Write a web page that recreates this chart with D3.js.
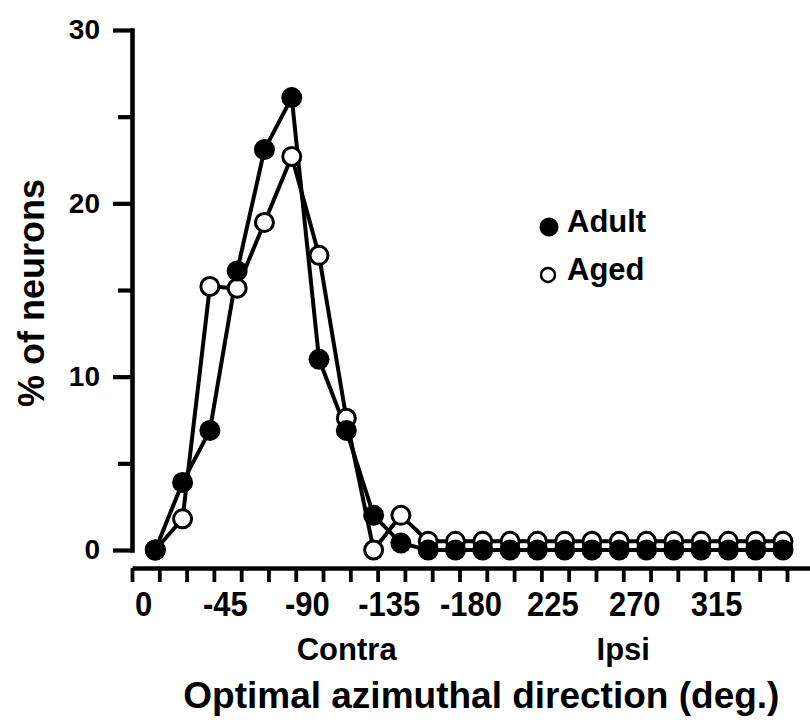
<!DOCTYPE html>
<html>
<head>
<meta charset="utf-8">
<script src="https://cdn.jsdelivr.net/npm/d3@7"></script>
<style>
  body { margin: 0; background: #fff; }
  svg text { font-family: "Liberation Sans", Arial, Helvetica, sans-serif; font-weight: bold; fill: #000; }
</style>
</head>
<body>
<svg id="chart" width="810" height="720"></svg>
<script>
// Azimuth bins (deg.), 15-degree steps
const binAngles = [0, 15, 30, 45, 60, 75, 90, 105, 120, 135, 150, 165,
                   180, 195, 210, 225, 240, 255, 270, 285, 300, 315, 330, 345];
// % of neurons per bin
const adultPct = [0, 3.9, 6.9, 16.1, 23.1, 26.1, 11.0, 6.9, 2.0, 0.4, 0, 0,
                  0, 0, 0, 0, 0, 0, 0, 0, 0, 0, 0, 0];
const agedPct  = [0, 1.8, 15.2, 15.1, 18.9, 22.7, 17.0, 7.6, 0, 2.0, 0.5, 0.5,
                  0.5, 0.5, 0.5, 0.5, 0.5, 0.5, 0.5, 0.5, 0.5, 0.5, 0.5, 0.5];

const yTickValues = [0, 5, 10, 15, 20, 25, 30];
const yMajorTicks = [0, 10, 20, 30];
const xTickValues = d3.range(0, 361, 15);
const xLabelAngles = [0, 45, 90, 135, 180, 225, 270, 315];
const xLabelTexts = ["0", "-45", "-90", "-135", "-180", "225", "270", "315"];
const sideNames = ["Contra", "Ipsi"];
const sideAngles = [118, 270];
const seriesNames = ["Adult", "Aged"];

const svg = d3.select("#chart");

// scales
const x = d3.scaleLinear().domain([0, 375]).range([132, 132 + 375 * (655 / 360)]);
const y = d3.scaleLinear().domain([0, 30]).range([550, 30]);
const pointShift = 12.8; // markers sit a little to the right of each bin tick

// y axis
const yAxisG = svg.append("g")
  .attr("transform", `translate(${x(0)},0)`)
  .call(d3.axisLeft(y).tickValues(yTickValues).tickSize(19).tickSizeOuter(0).tickPadding(13)
        .tickFormat(d => yMajorTicks.includes(d) ? d : ""));
yAxisG.select(".domain").attr("stroke", "#000").attr("stroke-width", 4.6).attr("stroke-linecap", "square");
yAxisG.selectAll(".tick line").attr("stroke", "#000").attr("stroke-width", 4.2)
  .attr("x2", d => yMajorTicks.includes(d) ? -19 : -14);
yAxisG.selectAll(".tick text").attr("font-size", 28).attr("font-family", null);

// x axis (ticks every 15 deg.)
const xAxisG = svg.append("g")
  .attr("transform", "translate(0,568)")
  .call(d3.axisBottom(x).tickValues(xTickValues).tickSize(14).tickSizeOuter(0).tickFormat(""));
xAxisG.select(".domain").attr("stroke", "#000").attr("stroke-width", 4.4);
xAxisG.selectAll(".tick line").attr("stroke", "#000").attr("stroke-width", 3.8);

// x tick labels
const xLabG = svg.append("g")
  .attr("transform", "translate(0,568)")
  .call(d3.axisBottom(x).tickValues(xLabelAngles).tickSize(0)
        .tickFormat((d, i) => xLabelTexts[i]));
xLabG.select(".domain").remove();
xLabG.selectAll(".tick text")
  .attr("font-family", null)
  .attr("font-size", 36)
  .attr("y", 0).attr("dy", null)
  .attr("transform", "translate(11,48) scale(0.86,1)");

// Contra / Ipsi
svg.append("g").selectAll("text").data(sideNames).join("text")
  .attr("x", (d, i) => x(sideAngles[i]))
  .attr("y", 660)
  .attr("text-anchor", "middle")
  .attr("font-size", 31)
  .text(d => d);

// axis titles
svg.append("text")
  .attr("x", x(192)).attr("y", 708)
  .attr("text-anchor", "middle")
  .attr("font-size", 37)
  .text("Optimal azimuthal direction (deg.)");

svg.append("text")
  .attr("transform", `translate(44,${y(15) + 3}) rotate(-90)`)
  .attr("text-anchor", "middle")
  .attr("font-size", 36)
  .text("% of neurons");

// series
const line = d3.line()
  .x((d, i) => x(binAngles[i] + pointShift))
  .y(d => y(d));

const plot = svg.append("g");
[agedPct, adultPct].forEach(vals => {
  plot.append("path")
    .datum(vals)
    .attr("d", line)
    .attr("fill", "none")
    .attr("stroke", "#000")
    .attr("stroke-width", 4)
    .attr("stroke-linejoin", "round");
});

plot.append("g").selectAll("circle").data(agedPct).join("circle")
  .attr("cx", (d, i) => x(binAngles[i] + pointShift))
  .attr("cy", d => y(d))
  .attr("r", 9)
  .attr("fill", "#fff")
  .attr("stroke", "#000")
  .attr("stroke-width", 3);

plot.append("g").selectAll("circle").data(adultPct).join("circle")
  .attr("cx", (d, i) => x(binAngles[i] + pointShift))
  .attr("cy", d => y(d))
  .attr("r", 10.5)
  .attr("fill", "#000");

// legend
const legend = svg.append("g");
legend.append("circle").attr("cx", 549).attr("cy", 227).attr("r", 9.5).attr("fill", "#000");
legend.append("circle").attr("cx", 548).attr("cy", 275).attr("r", 7).attr("fill", "#fff")
  .attr("stroke", "#000").attr("stroke-width", 2.5);
legend.selectAll("text").data(seriesNames).join("text")
  .attr("x", 567)
  .attr("y", (d, i) => [232, 280][i])
  .attr("font-size", 31)
  .text(d => d);
</script>
</body>
</html>
